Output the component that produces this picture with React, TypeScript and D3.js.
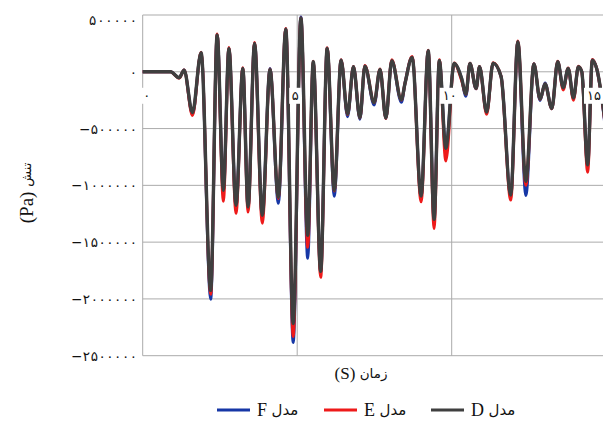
import React from 'react';
import * as d3 from 'd3';

// time (s) of each read-off point, shared by the three models
const times = [
  0, 0.9, 1.18, 1.34, 1.61, 1.89, 2.2, 2.41, 2.61, 2.79, 3.02, 3.24, 3.41, 3.62, 3.87, 4.12,
  4.39, 4.63, 4.87, 5.12, 5.34, 5.52, 5.76, 5.97, 6.2, 6.42, 6.63, 6.82, 7.03, 7.19, 7.49,
  7.68, 7.87, 8.06, 8.37, 8.49, 8.72, 9.01, 9.24, 9.43, 9.6, 9.81, 10.08, 10.32, 10.46, 10.59,
  10.79, 10.9, 11.13, 11.34, 11.6, 11.91, 12.14, 12.4, 12.66, 12.86, 13.02, 13.24, 13.43,
  13.61, 13.77, 13.94, 14.1, 14.21, 14.4, 14.55, 14.69, 15.0,
];

// stress (Pa)
const modelD = [
  0, 0, -53000, 15000, -360000, 168000, -1925000, 324000, -1043000, 206000, -1175000, 30000,
  -1190000, 250000, -1264000, 21000, -1105000, 374000, -2216000, 471000, -1440000, 88000,
  -1757000, 206000, -1043000, 103000, -373000, 44000, -405000, 50000, -270000, 21000, -408000,
  97000, -245000, -100000, 127000, -1095000, 185000, -1299000, 97000, -673000, 74000, -58000,
  -195000, 74000, -146000, 44000, -355000, 76000, -44000, -1085000, 265000, -965000, 68000,
  -240000, -108000, -323000, 88000, -140000, 30000, -230000, 44000, 0, -820000, 103000, 30000,
  -520000,
];
const modelE = [
  0, 0, -55000, 15000, -385000, 172000, -1960000, 332000, -1140000, 214000, -1246000, 36000,
  -1235000, 258000, -1334000, 24000, -1115000, 382000, -2330000, 474000, -1546000, 92000,
  -1810000, 212000, -1050000, 106000, -378000, 46000, -408000, 55000, -272000, 24000, -412000,
  105000, -248000, -100000, 135000, -1145000, 190000, -1380000, 105000, -785000, 78000, -75000,
  -198000, 76000, -150000, 46000, -375000, 80000, -44000, -1130000, 270000, -1000000, 70000,
  -242000, -108000, -326000, 92000, -160000, 34000, -250000, 48000, 0, -885000, 108000, 30000,
  -540000,
];
const modelF = [
  0, 0, -53000, 15000, -372000, 168000, -2004000, 326000, -1060000, 208000, -1190000, 32000,
  -1195000, 252000, -1270000, 30000, -1158000, 376000, -2384000, 482000, -1643000, 88000,
  -1765000, 208000, -1096000, 103000, -395000, 44000, -418000, 50000, -292000, 21000, -410000,
  97000, -268000, -100000, 127000, -1100000, 185000, -1305000, 97000, -680000, 74000, -58000,
  -215000, 74000, -150000, 44000, -358000, 76000, -44000, -1090000, 265000, -1090000, 70000,
  -252000, -98000, -325000, 88000, -142000, 30000, -232000, 44000, 0, -830000, 103000, 30000,
  -560000,
];

const yTicks = [500000, 0, -500000, -1000000, -1500000, -2000000, -2500000];
const yTickLabels = ['۵۰۰۰۰۰', '۰', '−۵۰۰۰۰۰', '−۱۰۰۰۰۰۰', '−۱۵۰۰۰۰۰', '−۲۰۰۰۰۰۰', '−۲۵۰۰۰۰۰'];
const xTicks = [0, 5, 10, 15];
const xTickLabels = ['۰', '۵', '۱۰', '۱۵'];
const legendLetters = ['F', 'E', 'D'];
const modelWord = 'مدل';

const width = 603;
const height = 423;
const grid = '#ababab';
const serif = '"Liberation Serif", "Times New Roman", serif';
const arabic = '"DejaVu Sans", sans-serif';

// spread Persian digits like the reference (letter-spacing is ignored for Arabic script)
const labelLength = (s: string) => {
  const minus = s.startsWith('−');
  const n = minus ? s.length - 1 : s.length;
  return n * 8 + (minus ? 10 : 0);
};

const App = () => {
  const x = d3.scaleLinear().domain([0, 15]).range([142.7, 606.2]);
  const y = d3.scaleLinear().domain([-2500000, 500000]).range([355.7, 15]);

  const line = d3
    .line<number>()
    .x((d, i) => x(times[i]))
    .y((d) => y(d))
    .curve(d3.curveMonotoneX);

  const series = [
    { letter: legendLetters[0], values: modelF, color: '#1637a6', w: 3 },
    { letter: legendLetters[1], values: modelE, color: '#ee1a1a', w: 3 },
    { letter: legendLetters[2], values: modelD, color: '#3f3f3f', w: 3.4 },
  ];

  const left = x(0);
  const legendX = [217, 324, 431];

  return (
    <div>
      <style>{'body{margin:0}'}</style>
      <svg width={width} height={height} style={{ display: 'block', background: '#fff' }}>
        {/* grid */}
        {yTicks.map((t) => (
          <line key={t} x1={left} x2={width} y1={y(t)} y2={y(t)} stroke={grid} strokeWidth={1} />
        ))}
        {xTicks.map((t) => (
          <line key={t} x1={x(t)} x2={x(t)} y1={y(500000)} y2={y(-2500000)} stroke={grid} strokeWidth={1} />
        ))}

        {/* series, D drawn last on top */}
        {series.map((s) => (
          <path
            key={s.letter}
            d={line(s.values) || ''}
            fill="none"
            stroke={s.color}
            strokeWidth={s.w}
            strokeLinejoin="round"
          />
        ))}

        {/* y tick labels */}
        {yTicks.map((t, i) => (
          <text
            key={t}
            x={137}
            y={Math.max(y(t), 20)}
            textAnchor="end"
            dominantBaseline="central"
            fontFamily={arabic}
            fontSize={13.5}
            textLength={labelLength(yTickLabels[i])}
            lengthAdjust="spacing"
            fill="#111"
          >
            {yTickLabels[i]}
          </text>
        ))}

        {/* x tick labels sit below the zero line on white boxes */}
        {xTicks.map((t, i) => {
          const cx = i === 0 ? x(t) + 4 : Math.min(x(t) - 2, 594);
          const bw = xTickLabels[i].length * 8 + 4;
          return (
            <g key={t}>
              <rect x={cx - bw / 2} y={y(0) + 16} width={bw} height={16} fill="#fff" />
              <text
                x={cx}
                y={y(0) + 24}
                textAnchor="middle"
                dominantBaseline="central"
                fontFamily={arabic}
                fontSize={13}
                fill="#111"
              >
                {xTickLabels[i]}
              </text>
            </g>
          );
        })}

        {/* axis titles */}
        <text x={361} y={373} textAnchor="middle" dominantBaseline="central" fill="#111">
          <tspan fontFamily={serif} fontSize={17}>(S) </tspan>
          <tspan fontFamily={arabic} fontSize={13.5}>زمان</tspan>
        </text>
        <text
          transform="translate(26,193) rotate(-90)"
          textAnchor="middle"
          dominantBaseline="central"
          fill="#111"
        >
          <tspan fontFamily={serif} fontSize={19}>(Pa) </tspan>
          <tspan fontFamily={arabic} fontSize={13}>تنش</tspan>
        </text>

        {/* legend */}
        {series.map((s, i) => (
          <g key={s.letter} transform={`translate(${legendX[i]},410)`}>
            <line x1={0} x2={33} y1={0} y2={0} stroke={s.color} strokeWidth={3} />
            <text x={40} y={0} dominantBaseline="central" fill="#111">
              <tspan fontFamily={serif} fontSize={18}>{s.letter} </tspan>
              <tspan fontFamily={arabic} fontSize={15}>{modelWord}</tspan>
            </text>
          </g>
        ))}
      </svg>
    </div>
  );
};

export default App;
